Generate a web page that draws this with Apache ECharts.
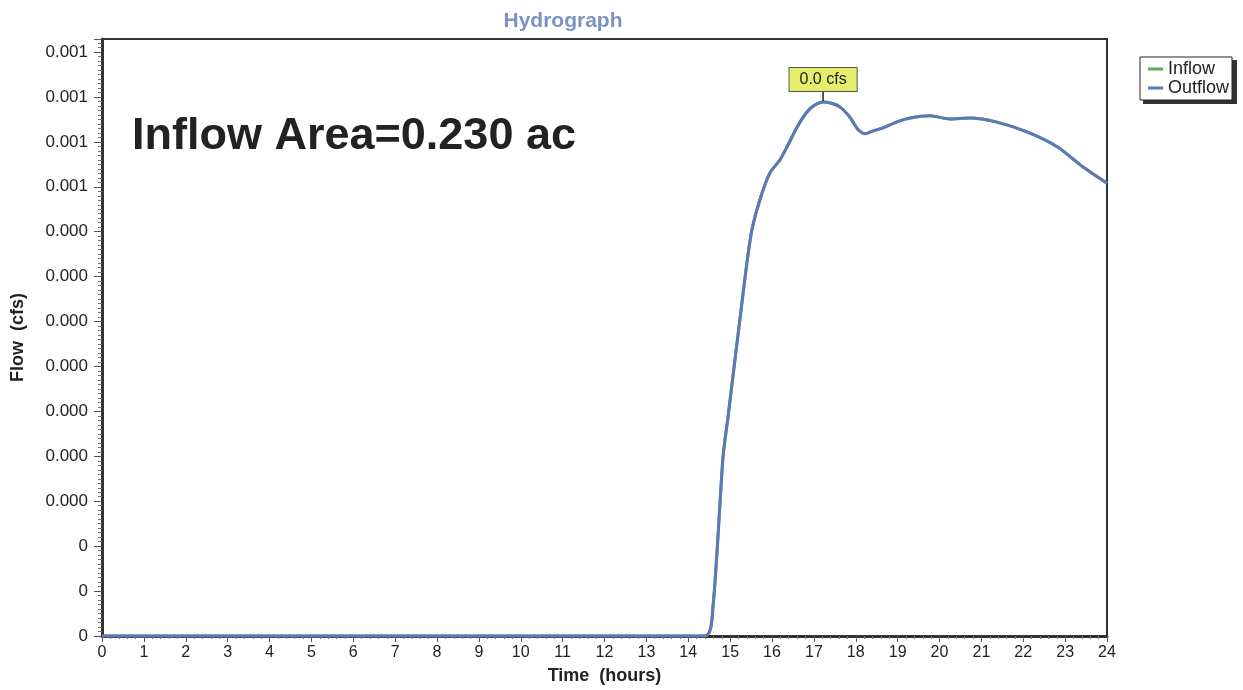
<!DOCTYPE html>
<html>
<head>
<meta charset="utf-8">
<script src="https://cdn.jsdelivr.net/npm/echarts@6/dist/echarts.min.js"></script>
<style>
html,body{margin:0;padding:0;background:#fff;}
#chart{width:1243px;height:690px;}
</style>
</head>
<body>
<div id="chart"></div>
<script>
// ---- data ----
const timeHours = [0, 14.40, 14.59, 14.83, 14.95, 15.24, 15.40, 15.52, 15.71, 15.95, 16.19, 16.36, 16.60, 16.84, 17.02, 17.22, 17.42, 17.62, 17.86, 18.05, 18.22, 18.40, 18.65, 19.00, 19.30, 19.77, 20.25, 20.73, 21.37, 22.09, 22.81, 23.43, 24.0];
const outflowCfs = [0, 0, 0.000065, 0.000398, 0.000488, 0.000710, 0.000830, 0.000904, 0.000971, 0.001031, 0.001060, 0.001089, 0.001133, 0.001167, 0.001182, 0.001189, 0.001186, 0.001178, 0.001155, 0.001128, 0.001118, 0.001124, 0.001131, 0.001145, 0.001153, 0.001158, 0.001151, 0.001153, 0.001144, 0.001122, 0.001089, 0.001044, 0.001008];
const inflowCfs = outflowCfs.slice();
const yTickLabels = ['0','0','0','0.000','0.000','0.000','0.000','0.000','0.000','0.000','0.001','0.001','0.001','0.001'];
const xTickLabels = ['0','1','2','3','4','5','6','7','8','9','10','11','12','13','14','15','16','17','18','19','20','21','22','23','24'];
const peakTime = 17.22;
const peakCfs = 0.001189;
const peakLabel = '0.0 cfs';
const noteText = 'Inflow Area=0.230 ac';

const toPairs = (xs, ys) => xs.map((x, i) => [x, ys[i]]);
const FONT = 'Liberation Sans, Arial, sans-serif';
const yStep = 0.0001;

const chart = echarts.init(document.getElementById('chart'), null, {renderer: 'canvas'});
chart.setOption({
  animation: false,
  backgroundColor: '#fff',
  textStyle: {fontFamily: FONT},
  title: {
    text: 'Hydrograph',
    left: 558, top: 6,
    textAlign: 'center',
    textStyle: {color: '#7b93c3', fontSize: 21, fontWeight: 'bold', fontFamily: FONT}
  },
  legend: {
    orient: 'vertical',
    left: 1140, top: 57,
    backgroundColor: '#fff',
    borderColor: '#222', borderWidth: 1,
    padding: [3, 3, 3, 8],
    itemGap: 1,
    itemWidth: 15, itemHeight: 3,
    icon: 'rect',
    textStyle: {fontSize: 18, color: '#222', fontFamily: FONT},
    data: ['Inflow', 'Outflow']
  },
  graphic: [{
    // legend drop shadow
    type: 'rect', z: 1,
    shape: {x: 1143, y: 60, width: 94, height: 44},
    style: {fill: '#333'}
  }, {
    type: 'text',
    left: 132, top: 114,
    style: {text: noteText, font: 'bold 45px ' + FONT, fill: '#222'}
  }],
  grid: {
    left: 102, right: 136, top: 39, bottom: 54,
    show: true, borderColor: '#333', borderWidth: 2, backgroundColor: '#fff'
  },
  xAxis: {
    type: 'value', min: 0, max: 24, interval: 1,
    name: 'Time  (hours)', nameLocation: 'middle', nameGap: 31,
    nameTextStyle: {fontSize: 18, fontWeight: 'bold', color: '#222', fontFamily: FONT},
    axisLine: {show: true, onZero: false, lineStyle: {color: '#333', width: 3}},
    axisTick: {show: true, length: 6, lineStyle: {color: '#555', width: 1}},
    minorTick: {show: true, splitNumber: 5, length: 3, lineStyle: {color: '#777'}},
    splitLine: {show: false},
    axisLabel: {fontSize: 16, color: '#222', margin: 9, formatter: v => xTickLabels[Math.round(v)] ?? ''}
  },
  yAxis: {
    type: 'value', min: 0, max: 0.001329, interval: yStep,
    name: 'Flow  (cfs)', nameLocation: 'middle', nameGap: 75, nameRotate: 90,
    nameTextStyle: {fontSize: 18, fontWeight: 'bold', color: '#222', fontFamily: FONT},
    axisLine: {show: true, onZero: false, lineStyle: {color: '#333', width: 3}},
    axisTick: {show: true, length: 8, lineStyle: {color: '#555', width: 1}},
    minorTick: {show: true, splitNumber: 10, length: 4, lineStyle: {color: '#777'}},
    splitLine: {show: false},
    axisLabel: {
      fontSize: 17, color: '#222', margin: 14, showMaxLabel: false,
      formatter: v => {
        const k = v / yStep;
        const r = Math.round(k);
        return Math.abs(k - r) < 1e-6 ? (yTickLabels[r] ?? '') : '';
      }
    }
  },
  series: [
    {
      name: 'Inflow', type: 'line', data: toPairs(timeHours, inflowCfs),
      showSymbol: false, smooth: 0.25,
      lineStyle: {color: '#5aab5a', width: 3}, itemStyle: {color: '#5aab5a'}, z: 2
    },
    {
      name: 'Outflow', type: 'line', data: toPairs(timeHours, outflowCfs),
      showSymbol: false, smooth: 0.25,
      lineStyle: {color: '#5b78bb', width: 3}, itemStyle: {color: '#5b78bb'}, z: 3,
      markPoint: {
        silent: true,
        data: [{
          coord: [peakTime, peakCfs],
          symbol: 'rect', symbolSize: [1.5, 10], symbolOffset: [0, -6],
          itemStyle: {color: '#222'},
          label: {
            show: true, position: 'top', distance: 0,
            formatter: peakLabel,
            backgroundColor: '#e4ee6c', borderColor: '#555', borderWidth: 1,
            padding: [4, 10, 3, 10], color: '#222', fontSize: 16, fontFamily: FONT
          }
        }]
      }
    }
  ]
});
</script>
</body>
</html>
